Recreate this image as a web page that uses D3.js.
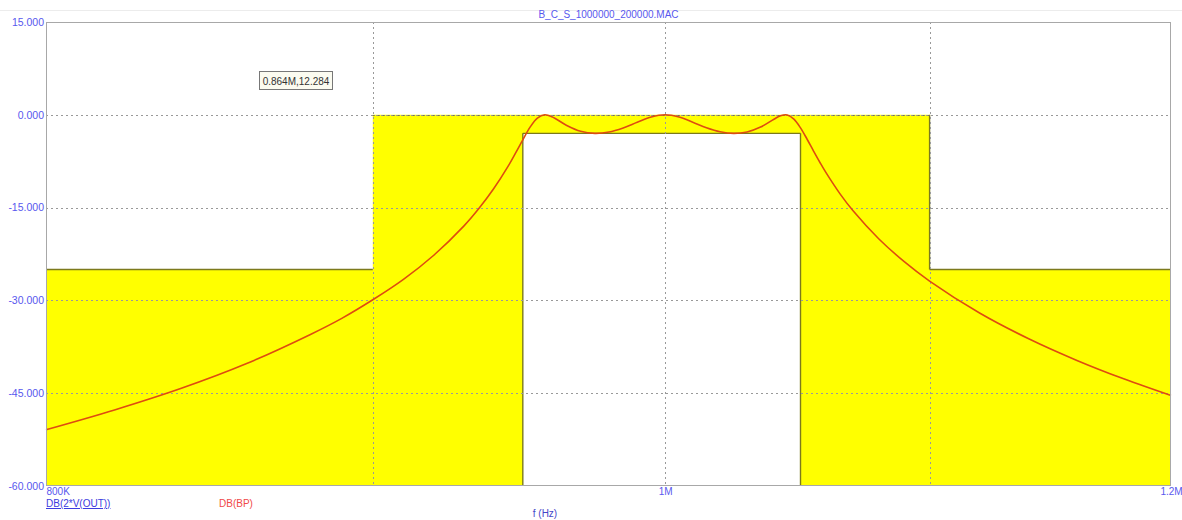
<!DOCTYPE html>
<html>
<head>
<meta charset="utf-8">
<script src="https://cdn.jsdelivr.net/npm/d3@7"></script>
<style>
  html, body { margin: 0; padding: 0; background: #ffffff; }
  svg { display: block; }
  text { font-family: "Liberation Sans", Arial, sans-serif; }
</style>
</head>
<body>
<svg id="chart" width="1182" height="520"></svg>
<script>
// Band-pass response DB(BP): frequency in kHz, magnitude in dB
const bpFreqKHz = [800, 820, 840, 860, 880, 890, 900, 910, 920, 930, 935, 940, 945, 947.5, 950, 952.5, 955, 957.5, 960, 965, 970, 975, 980, 985, 990, 995, 1000, 1005, 1010, 1015, 1020, 1025, 1030, 1035, 1040, 1042.5, 1045, 1047.5, 1050, 1052.5, 1055, 1057.5, 1060, 1065, 1070, 1080, 1090, 1100, 1120, 1140, 1160, 1180, 1200];
const bpDb = [-50.9, -47.7, -44.2, -40.2, -35.5, -32.9, -29.9, -26.6, -22.7, -18.0, -15.2, -12.0, -8.3, -6.2, -4.05, -2.0, -0.54, 0.0, -0.31, -1.68, -2.67, -3.0, -2.78, -2.12, -1.22, -0.36, 0.0, -0.36, -1.2, -2.09, -2.74, -3.0, -2.77, -1.98, -0.71, -0.15, -0.03, -0.69, -2.11, -3.95, -5.9, -7.79, -9.56, -12.74, -15.48, -20.03, -23.74, -26.88, -32.04, -36.2, -39.7, -42.72, -45.38];

// Stop-band mask (upper limit) and pass-band minimum
const maskUpperFreq = [800e3, 900e3, 900e3, 1.1e6, 1.1e6, 1.2e6];
const maskUpperDb = [-25, -25, 0, 0, -25, -25];
const passFreq = [950e3, 1.05e6];
const passMinDb = -3;

// Axis ticks
const yTicks = [15, 0, -15, -30, -45, -60];
const yTickLabels = ["15.000", "0.000", "-15.000", "-30.000", "-45.000", "-60.000"];
const xGrid = [900e3, 1e6, 1.1e6];
const xTicks = [800e3, 1e6, 1.2e6];
const xTickLabels = ["800K", "1M", "1.2M"];

const title = "B_C_S_1000000_200000.MAC";
const markerText = "0.864M,12.284";

const svg = d3.select("#chart");
const L = 46, R = 1171, T = 22, B = 486;

const x = d3.scaleLog().domain([800e3, 1.2e6]).range([L, R]);
const y = d3.scaleLinear().domain([-60, 15]).range([B, T]);

// faint separator above the plot
svg.append("line").attr("x1", 0).attr("x2", 1182).attr("y1", 10.5).attr("y2", 10.5)
  .attr("stroke", "#ececec").attr("stroke-width", 1);

// yellow region under the upper mask
const maskPts = maskUpperFreq.map((f, i) => [f, maskUpperDb[i]]);
const area = d3.area().x(d => x(d[0])).y0(y(-60)).y1(d => y(d[1])).curve(d3.curveLinear);
svg.append("path").datum(maskPts).attr("d", area).attr("fill", "#ffff00");

// white pass-band window
svg.append("rect")
  .attr("x", x(passFreq[0])).attr("y", y(passMinDb))
  .attr("width", x(passFreq[1]) - x(passFreq[0]))
  .attr("height", y(-60) - y(passMinDb))
  .attr("fill", "#ffffff");

// olive mask outlines
const olive = "#7c7a1c";
const seg = (x1, y1, x2, y2) => svg.append("line")
  .attr("x1", x1).attr("y1", y1).attr("x2", x2).attr("y2", y2)
  .attr("stroke", olive).attr("stroke-width", 1.4);
seg(x(maskUpperFreq[0]), y(maskUpperDb[0]), x(maskUpperFreq[1]), y(maskUpperDb[1]));
seg(x(maskUpperFreq[4]), y(maskUpperDb[3]), x(maskUpperFreq[4]), y(maskUpperDb[4]));
seg(x(maskUpperFreq[4]), y(maskUpperDb[4]), x(maskUpperFreq[5]), y(maskUpperDb[5]));
seg(x(passFreq[0]), y(passMinDb), x(passFreq[1]), y(passMinDb));
seg(x(passFreq[0]), y(passMinDb), x(passFreq[0]), y(-60));
seg(x(passFreq[1]), y(passMinDb), x(passFreq[1]), y(-60));

// dotted grid
const grid = svg.append("g").attr("stroke", "#999999").attr("stroke-width", 1)
  .attr("stroke-dasharray", "2,3");
yTicks.filter(v => v > -60 && v < 15).forEach(v => {
  grid.append("line").attr("x1", L).attr("x2", R)
    .attr("y1", Math.round(y(v)) + 0.5).attr("y2", Math.round(y(v)) + 0.5);
});
xGrid.forEach(f => {
  grid.append("line").attr("y1", T).attr("y2", B)
    .attr("x1", Math.round(x(f)) + 0.5).attr("x2", Math.round(x(f)) + 0.5);
});
// the 0 dB edge of the mask reads darker over the yellow
svg.append("line").attr("x1", x(maskUpperFreq[2])).attr("x2", x(maskUpperFreq[3]))
  .attr("y1", Math.round(y(0)) + 0.5).attr("y2", Math.round(y(0)) + 0.5)
  .attr("stroke", "#77775a").attr("stroke-width", 1.2).attr("stroke-dasharray", "2,3");

// response curve
const line = d3.line().x((d, i) => x(bpFreqKHz[i] * 1000)).y(d => y(d)).curve(d3.curveCatmullRom);
svg.append("path").datum(bpDb).attr("d", line)
  .attr("fill", "none").attr("stroke", "#de4c10").attr("stroke-width", 1.6);

// plot frame
svg.append("rect").attr("x", L + 0.5).attr("y", T + 0.5)
  .attr("width", R - L - 1).attr("height", B - T - 1)
  .attr("fill", "none").attr("stroke", "#a8a8a8").attr("stroke-width", 1);

// y axis labels
const axisColor = "#5858ee";
const yAxis = d3.axisLeft(y).tickValues(yTicks).tickSize(0).tickPadding(2)
  .tickFormat((d, i) => yTickLabels[i]);
const gy = svg.append("g").attr("transform", `translate(${L},0)`).call(yAxis);
gy.select(".domain").remove();
gy.selectAll("text").attr("fill", axisColor).attr("font-size", "10.5px")
  .attr("font-family", "Liberation Sans, Arial, sans-serif");

// x axis labels
const xAxis = d3.axisBottom(x).tickValues(xTicks).tickSize(0)
  .tickFormat((d, i) => xTickLabels[i]);
const gx = svg.append("g").attr("transform", `translate(0,${B})`).call(xAxis);
gx.select(".domain").remove();
gx.selectAll("text").attr("fill", axisColor).attr("font-size", "10px")
  .attr("font-family", "Liberation Sans, Arial, sans-serif").attr("dy", "0.55em")
  .attr("text-anchor", (d, i) => i === 0 ? "start" : "middle");

// title
svg.append("text").attr("x", (L + R) / 2).attr("y", 18).attr("text-anchor", "middle")
  .attr("fill", axisColor).attr("font-size", "10px").text(title);

// axis title
svg.append("text").attr("x", 545).attr("y", 517).attr("text-anchor", "middle")
  .attr("fill", "#4646c8").attr("font-size", "10px").text("f (Hz)");

// trace legend
svg.append("text").attr("x", L).attr("y", 507).attr("fill", "#3c3ce0")
  .attr("font-size", "10px").attr("text-decoration", "underline").text("DB(2*V(OUT))");
svg.append("text").attr("x", 219).attr("y", 507).attr("fill", "#f04848")
  .attr("font-size", "10px").text("DB(BP)");

// cursor readout box
const mb = svg.append("g").attr("transform", "translate(259,71)");
mb.append("rect").attr("x", 0.5).attr("y", 0.5).attr("width", 73).attr("height", 18)
  .attr("fill", "#fbfbf0").attr("stroke", "#777").attr("stroke-width", 1);
mb.append("text").attr("x", 37).attr("y", 13.5).attr("text-anchor", "middle")
  .attr("fill", "#333").attr("font-size", "10px").text(markerText);
</script>
</body>
</html>
